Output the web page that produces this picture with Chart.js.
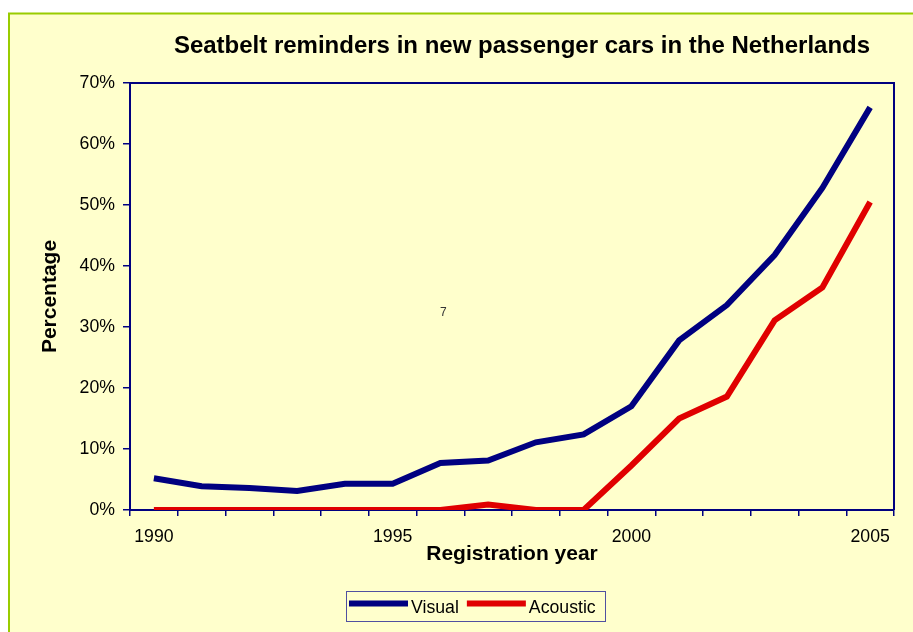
<!DOCTYPE html>
<html>
<head>
<meta charset="utf-8">
<script src="https://cdn.jsdelivr.net/npm/chart.js@4.4.0/dist/chart.umd.min.js"></script>
<style>
  html, body { margin: 0; padding: 0; background: #fff; }
  canvas { display: block; }
</style>
</head>
<body>
<canvas id="chart" width="913" height="632"></canvas>
<script>
// data (percent of new cars)
var years = ['1990', '1991', '1992', '1993', '1994', '1995', '1996', '1997',
             '1998', '1999', '2000', '2001', '2002', '2003', '2004', '2005'];
var visual = [5.2, 3.9, 3.6, 3.1, 4.3, 4.3, 7.7, 8.1, 11.1, 12.4, 17.0, 27.8, 33.6, 41.8, 52.8, 66.0];
var acoustic = [0, 0, 0, 0, 0, 0, 0, 0.9, 0, 0, 7.3, 15.0, 18.6, 31.1, 36.5, 50.5];
var shownYears = ['1990', '1995', '2000', '2005'];

var titleText = 'Seatbelt reminders in new passenger cars in the Netherlands';
var FONT = "'Liberation Sans', Arial, sans-serif";
var NAVY = '#000080';

// background, frame, title and legend in the old excel look
var decor = {
  id: 'decor',
  beforeDraw: function(chart) {
    var ctx = chart.ctx;
    ctx.save();
    ctx.fillStyle = '#ffffff';
    ctx.fillRect(0, 0, chart.width, chart.height);
    ctx.fillStyle = '#FFFFCC';
    ctx.fillRect(9, 13, chart.width - 9, chart.height - 13);
    ctx.strokeStyle = '#99CC00';
    ctx.lineWidth = 2;
    ctx.beginPath();
    ctx.moveTo(9, chart.height);
    ctx.lineTo(9, 13.5);
    ctx.lineTo(chart.width, 13.5);
    ctx.stroke();
    ctx.restore();
  },
  afterDraw: function(chart) {
    var ctx = chart.ctx, a = chart.chartArea;
    ctx.save();
    // top and right side of the plot frame
    ctx.strokeStyle = NAVY;
    ctx.lineWidth = 2;
    ctx.beginPath();
    ctx.moveTo(a.left, a.top);
    ctx.lineTo(a.right, a.top);
    ctx.lineTo(a.right, a.bottom);
    ctx.stroke();

    // title
    ctx.fillStyle = '#000';
    ctx.font = 'bold 24px ' + FONT;
    ctx.textAlign = 'center';
    ctx.textBaseline = 'alphabetic';
    ctx.fillText(titleText, 522, 53);

    // stray page number
    ctx.font = '12px ' + FONT;
    ctx.textAlign = 'left';
    ctx.fillStyle = '#333';
    ctx.fillText('7', 440, 316);

    // legend
    ctx.strokeStyle = '#5050A0';
    ctx.lineWidth = 1;
    ctx.strokeRect(346.5, 591.5, 259, 30);
    ctx.font = '17.7px ' + FONT;
    ctx.fillStyle = '#000';
    var x = 349;
    chart.data.datasets.forEach(function(ds) {
      ctx.fillStyle = ds.borderColor;
      ctx.fillRect(x, 600.5, 59, 6);
      ctx.fillStyle = '#000';
      ctx.fillText(ds.label, x + 62, 613);
      x += 62 + ctx.measureText(ds.label).width + 8;
    });
    ctx.restore();
  }
};

var ctx = document.getElementById('chart').getContext('2d');
var chart = new Chart(ctx, {
  type: 'line',
  data: {
    labels: years,
    datasets: [{
      label: 'Visual',
      data: visual,
      borderColor: NAVY,
      backgroundColor: NAVY,
      borderWidth: 6,
      borderJoinStyle: 'miter',
      pointRadius: 0,
      tension: 0,
      clip: 0
    }, {
      label: 'Acoustic',
      data: acoustic,
      borderColor: '#E00000',
      backgroundColor: '#E00000',
      borderWidth: 6,
      borderJoinStyle: 'miter',
      pointRadius: 0,
      tension: 0,
      clip: 0
    }]
  },
  options: {
    responsive: false,
    animation: false,
    layout: { padding: { top: 83, left: 9, right: 19, bottom: 60 } },
    plugins: {
      legend: { display: false },
      title: { display: false },
      tooltip: { enabled: false }
    },
    scales: {
      x: {
        offset: true,
        z: 1,
        grid: { offset: true, drawOnChartArea: false, color: NAVY, lineWidth: 1.5, tickLength: 6 },
        border: { color: NAVY, width: 2 },
        ticks: {
          autoSkip: false,
          maxRotation: 0,
          padding: 10,
          color: '#000',
          font: { family: FONT, size: 17.7 },
          callback: function(v, i) {
            return shownYears.indexOf(years[i]) >= 0 ? years[i] : '';
          }
        },
        title: {
          display: true,
          text: 'Registration year',
          color: '#000',
          font: { family: FONT, size: 21, weight: 'bold' },
          padding: { top: 0, bottom: 5 }
        },
        afterFit: function(scale) { scale.height = 62; }
      },
      y: {
        min: 0,
        max: 70,
        z: 1,
        grid: { drawOnChartArea: false, color: NAVY, lineWidth: 1.5, tickLength: 7 },
        border: { color: NAVY, width: 2 },
        ticks: {
          stepSize: 10,
          padding: 8,
          color: '#000',
          font: { family: FONT, size: 17.7 },
          callback: function(v) { return v + '%'; }
        },
        title: {
          display: true,
          text: 'Percentage',
          color: '#000',
          font: { family: FONT, size: 21, weight: 'bold' },
          padding: { top: 29, bottom: 0 }
        },
        afterFit: function(scale) { scale.width = 121; }
      }
    }
  },
  plugins: [decor]
});
</script>
</body>
</html>
